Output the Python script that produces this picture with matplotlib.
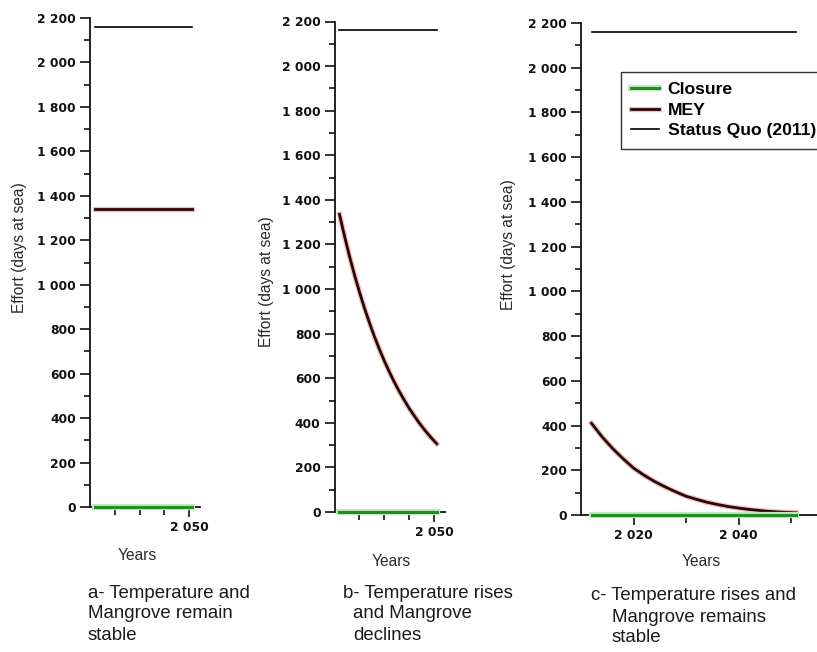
import matplotlib
matplotlib.use("Agg")
import matplotlib.pyplot as plt
import matplotlib.patheffects as pe
from matplotlib.ticker import FixedLocator

# ---------------- data ----------------
years = [2012, 2014, 2016, 2018, 2020, 2022, 2024, 2026, 2028, 2030,
         2032, 2034, 2036, 2038, 2040, 2042, 2044, 2046, 2048, 2050, 2051]

closure_a = [0] * len(years)
closure_b = [0] * len(years)
closure_c = [0] * len(years)

mey_a = [1340] * len(years)
mey_b = [1335, 1238, 1148, 1064, 987, 915, 849, 787, 730, 677,
         628, 582, 540, 501, 464, 431, 399, 370, 343, 318, 306]
mey_c = [410, 350, 298, 252, 210, 178, 150, 126, 104, 84,
         70, 57, 47, 38, 31, 25, 20, 16, 13, 11, 10]

status_quo = [2160] * len(years)

y_ticks = [0, 200, 400, 600, 800, 1000, 1200, 1400, 1600, 1800, 2000, 2200]
y_ticklabels = ["0", "200", "400", "600", "800", "1 000", "1 200", "1 400",
                "1 600", "1 800", "2 000", "2 200"]

series_labels = ["Closure", "MEY", "Status Quo (2011)"]
captions = [
    ["a- Temperature and", "Mangrove remain", "stable"],
    ["b- Temperature rises", "and Mangrove", "declines"],
    ["c- Temperature rises and", "Mangrove remains", "stable"],
]
ylabel = "Effort (days at sea)"
xlabel = "Years"

# ---------------- figure ----------------
W, H = 817, 652
fig = plt.figure(figsize=(W / 100, H / 100), dpi=100)


def px_axes(left, top, right, bottom):
    return fig.add_axes([left / W, 1 - bottom / H, (right - left) / W, (bottom - top) / H])


ax_a = px_axes(90, 18, 200, 507)
ax_b = px_axes(334.5, 21.5, 445, 512)
ax_c = px_axes(581, 23, 817, 515)

xlims = [(2010, 2054.4), (2010, 2054.3), (2010, 2054.95)]
mey_list = [mey_a, mey_b, mey_c]
closure_list = [closure_a, closure_b, closure_c]

green_pe = [pe.Stroke(linewidth=4.5, foreground="#b8ecb8"), pe.Normal()]
red_pe = [pe.Stroke(linewidth=3.8, foreground="#f0c0c0"), pe.Normal()]

tick_font = dict(family="DejaVu Sans", weight="bold", size=8.8)

for i, ax in enumerate([ax_a, ax_b, ax_c]):
    ax.plot(years, status_quo, color="black", lw=1.2, label=series_labels[2], zorder=3)
    ax.plot(years, mey_list[i], color="#2b0606", lw=2.0, label=series_labels[1],
            path_effects=red_pe, zorder=4)
    ax.plot(years, closure_list[i], color="#2a8a2a", lw=2.2, label=series_labels[0],
            path_effects=green_pe, zorder=5, clip_on=False)

    ax.set_xlim(*xlims[i])
    ax.set_ylim(0, 2200)
    for s in ["top", "right"]:
        ax.spines[s].set_visible(False)
    for s in ["left", "bottom"]:
        ax.spines[s].set_linewidth(1.3)
        ax.spines[s].set_color("#111111")

    ax.set_yticks(y_ticks)
    ax.set_yticklabels(y_ticklabels, fontdict=tick_font)
    ax.yaxis.set_minor_locator(FixedLocator([v + 100 for v in y_ticks[:-1]]))

    if i < 2:
        ax.set_xticks([2050])
        ax.set_xticklabels(["2 050"], fontdict=tick_font)
        ax.xaxis.set_minor_locator(FixedLocator([2020, 2030, 2040]))
    else:
        ax.set_xticks([2020, 2040])
        ax.set_xticklabels(["2 020", "2 040"], fontdict=tick_font)
        ax.xaxis.set_minor_locator(FixedLocator([2030, 2050]))

    ax.tick_params(which="major", direction="out", length=7, width=1.2, colors="#111111", pad=3)
    ax.tick_params(axis="y", which="minor", direction="out", length=4, width=1.2, colors="#111111")
    ax.tick_params(axis="x", which="minor", direction="out", length=5.5, width=1.2, colors="#111111")
    ax.set_facecolor("none")

# axis labels
lab_font = dict(family="Liberation Sans", size=11.2, color="#2a2a2a")
for (x, y) in [(20, 248), (267, 282), (508, 245)]:
    fig.text(x / W, 1 - y / H, ylabel, rotation=90, ha="center", va="center", **lab_font)
for (x, y) in [(137, 556), (391, 562), (701, 561)]:
    fig.text(x / W, 1 - y / H, xlabel, ha="center", va="center", **lab_font)

# captions
cap_font = dict(family="Liberation Sans", size=13.4, color="#1a1a1a")
cap_pos = [
    [(88, 593), (88, 614), (88, 635)],
    [(343, 593), (353, 614), (353, 636)],
    [(591, 595), (612, 617), (612, 638)],
]
for lines, poss in zip(captions, cap_pos):
    for t, (x, y) in zip(lines, poss):
        fig.text(x / W, 1 - y / H, t, ha="left", va="center", **cap_font)

# legend in panel c
handles, labels = ax_c.get_legend_handles_labels()
order = [2, 1, 0]
leg = ax_c.legend([handles[k] for k in order], [labels[k] for k in order],
                  loc="upper left", bbox_to_anchor=(620.5 / W, 1 - 71.5 / H),
                  bbox_transform=fig.transFigure, frameon=True, fancybox=False,
                  prop=dict(family="Liberation Sans", weight="bold", size=12.6),
                  handlelength=1.6, handletextpad=0.5, borderpad=0.6,
                  labelspacing=0.3, borderaxespad=0)
leg.get_frame().set_edgecolor("black")
leg.get_frame().set_linewidth(1.0)

fig.savefig("out.png", dpi=100)
